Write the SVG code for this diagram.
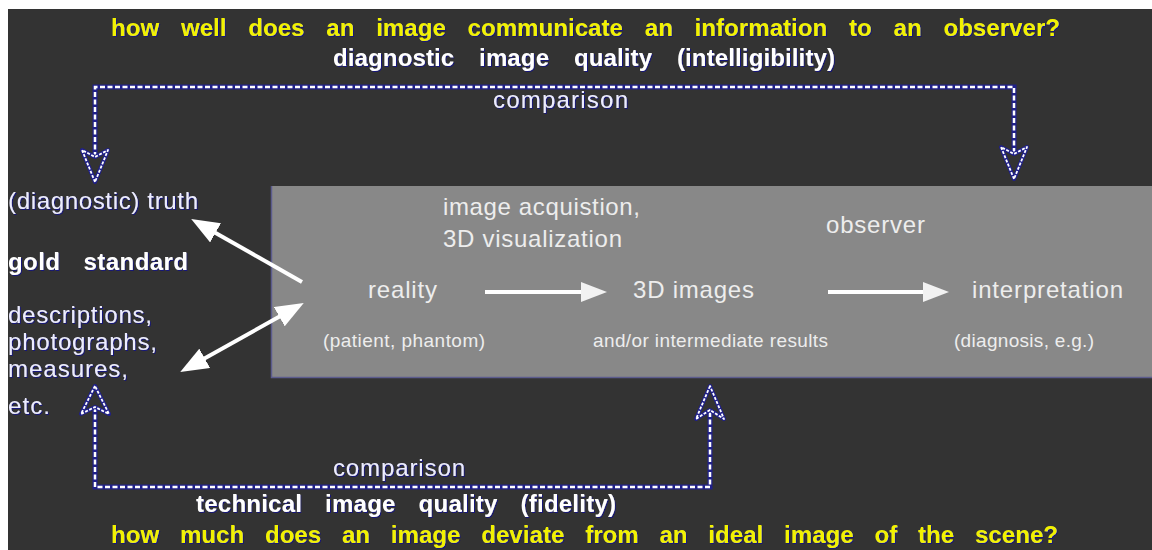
<svg xmlns="http://www.w3.org/2000/svg" width="1152" height="550" viewBox="0 0 1152 550">
<defs>
<style>
.ttl{font-family:"Liberation Sans",Arial,sans-serif;font-weight:bold;font-size:24px}
.yel{fill:#f2f200}
.wht{fill:#ffffff}
.lbl{font-family:"Liberation Sans",Arial,sans-serif;font-size:24px;fill:#ececff}
.in{font-family:"Liberation Sans",Arial,sans-serif;fill:#ededed;font-size:24px}
.sm{font-size:19px}
.dash-under{fill:none;stroke:#20208a;stroke-width:5}
.dash{fill:none;stroke:#ffffff;stroke-width:2.5;stroke-dasharray:5 2.5}
.head-under{fill:none;stroke:#20208a;stroke-width:4;stroke-linejoin:round}
.head{fill:none;stroke:#ffffff;stroke-width:1.8;stroke-dasharray:3 1.5;stroke-linejoin:round}
.warr{stroke:#ffffff;stroke-width:4;fill:none}
</style>
<filter id="sh" x="-5%" y="-30%" width="110%" height="160%">
<feDropShadow dx="1" dy="1" stdDeviation="0.6" flood-color="#12127a" flood-opacity="1"/>
</filter>
<marker id="ah" markerUnits="userSpaceOnUse" markerWidth="28" markerHeight="22" refX="8" refY="11" orient="auto-start-reverse" viewBox="0 0 28 22">
<path d="M0,0 L28,11 L0,22 Z" fill="#ffffff"/>
</marker>
<marker id="ah2" markerUnits="userSpaceOnUse" markerWidth="26" markerHeight="20" refX="8" refY="10" orient="auto" viewBox="0 0 26 20">
<path d="M0,0 L26,10 L0,20 Z" fill="#f2f2f2"/>
</marker>
</defs>

<rect x="0" y="0" width="1152" height="550" fill="#ffffff"/>
<rect x="8" y="9" width="1144" height="541" fill="#333333"/>

<g id="panel">
<rect x="271" y="186" width="881" height="192" fill="#888888"/>
<path d="M271.5,186 V377.5 H1152" fill="none" stroke="#5c5c8e" stroke-width="1.5"/>
</g>

<g id="title-top" filter="url(#sh)">
<text class="ttl yel" x="111" y="36" textLength="949" lengthAdjust="spacing" word-spacing="15">how well does an image communicate an information to an observer?</text>
</g>
<g id="subtitle-top" filter="url(#sh)">
<text class="ttl wht" x="333" y="66" textLength="502" lengthAdjust="spacing" word-spacing="18">diagnostic image quality (intelligibility)</text>
</g>
<g id="comparison-top" filter="url(#sh)">
<text class="lbl" x="493" y="108" textLength="135" lengthAdjust="spacing">comparison</text>
</g>

<g id="truth" filter="url(#sh)">
<text class="lbl" x="8" y="209" textLength="190" lengthAdjust="spacing">(diagnostic) truth</text>
</g>
<g id="gold-standard" filter="url(#sh)">
<text class="ttl wht" x="8" y="270" textLength="180" lengthAdjust="spacing" word-spacing="16">gold standard</text>
</g>
<g id="descriptions" filter="url(#sh)">
<text class="lbl" x="8" y="323" textLength="144" lengthAdjust="spacing">descriptions,</text>
<text class="lbl" x="8" y="350" textLength="149" lengthAdjust="spacing">photographs,</text>
<text class="lbl" x="8" y="377" textLength="120" lengthAdjust="spacing">measures,</text>
<text class="lbl" x="8" y="414" textLength="42" lengthAdjust="spacing">etc.</text>
</g>

<g id="process-label">
<text class="in" x="443" y="215" textLength="197" lengthAdjust="spacing">image acquistion,</text>
<text class="in" x="443" y="247" textLength="179" lengthAdjust="spacing">3D visualization</text>
</g>
<g id="observer">
<text class="in" x="826" y="233" textLength="99" lengthAdjust="spacing">observer</text>
</g>
<g id="reality">
<text class="in" x="368" y="298" textLength="69" lengthAdjust="spacing">reality</text>
<text class="in sm" x="323" y="347" textLength="162" lengthAdjust="spacing">(patient, phantom)</text>
</g>
<g id="images">
<text class="in" x="633" y="298" textLength="121" lengthAdjust="spacing">3D images</text>
<text class="in sm" x="593" y="347" textLength="235" lengthAdjust="spacing">and/or intermediate results</text>
</g>
<g id="interpretation">
<text class="in" x="972" y="298" textLength="151" lengthAdjust="spacing">interpretation</text>
<text class="in sm" x="954" y="347" textLength="140" lengthAdjust="spacing">(diagnosis, e.g.)</text>
</g>

<g id="comparison-bottom" filter="url(#sh)">
<text class="lbl" x="333" y="476" textLength="132" lengthAdjust="spacing">comparison</text>
</g>
<g id="subtitle-bottom" filter="url(#sh)">
<text class="ttl wht" x="196" y="512" textLength="420" lengthAdjust="spacing" word-spacing="16">technical image quality (fidelity)</text>
</g>
<g id="title-bottom" filter="url(#sh)">
<text class="ttl yel" x="111" y="543" textLength="947" lengthAdjust="spacing" word-spacing="14">how much does an image deviate from an ideal image of the scene?</text>
</g>

<g id="connectors">
<path class="dash-under" d="M95,157 V87 H1014 V154"/>
<path class="dash" d="M95,157 V87 H1014 V154"/>
<polygon class="head-under" points="95,182 82,150 95,157 108,150"/>
<polygon class="head" points="95,182 82,150 95,157 108,150"/>
<polygon class="head-under" points="1014,179 1001,147 1014,154 1027,147"/>
<polygon class="head" points="1014,179 1001,147 1014,154 1027,147"/>

<path class="dash-under" d="M95,407 V487 H710 V410"/>
<path class="dash" d="M95,407 V487 H710 V410"/>
<polygon class="head-under" points="95,386 81,414 95,407 109,414"/>
<polygon class="head" points="95,386 81,414 95,407 109,414"/>
<polygon class="head-under" points="710,386 696,419 710,410 724,419"/>
<polygon class="head" points="710,386 696,419 710,410 724,419"/>

<line class="warr" x1="302" y1="282" x2="208.6" y2="228.9" marker-end="url(#ah)"/>
<line class="warr" x1="197.7" y1="362.2" x2="286.3" y2="312.8" marker-start="url(#ah)" marker-end="url(#ah)"/>

<line class="warr" x1="485" y1="292" x2="589" y2="292" stroke="#f2f2f2" marker-end="url(#ah2)"/>
<line class="warr" x1="828" y1="292" x2="931" y2="292" stroke="#f2f2f2" marker-end="url(#ah2)"/>
</g>
</svg>
